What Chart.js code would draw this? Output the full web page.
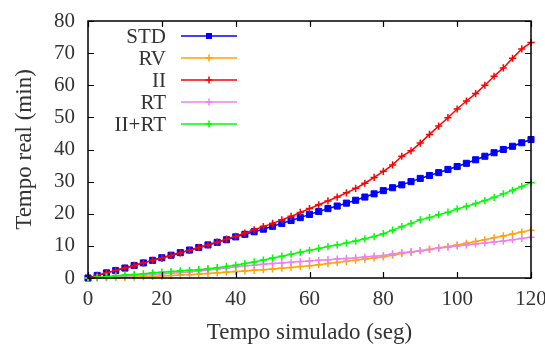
<!DOCTYPE html>
<html><head><meta charset="utf-8">
<script src="https://cdn.jsdelivr.net/npm/chart.js@4/dist/chart.umd.min.js"></script>
<style>html,body{margin:0;padding:0;background:#fff;}canvas{display:block;}</style>
</head><body>
<canvas id="c" width="545" height="347"></canvas>
<script>
const seconds = [0,2.5,5,7.5,10,12.5,15,17.5,20,22.5,25,27.5,30,32.5,35,37.5,40,42.5,45,47.5,50,52.5,55,57.5,60,62.5,65,67.5,70,72.5,75,77.5,80,82.5,85,87.5,90,92.5,95,97.5,100,102.5,105,107.5,110,112.5,115,117.5,120];
const stdValues = [0,0.8,1.6,2.3,3.1,3.9,4.7,5.5,6.3,7.1,7.9,8.7,9.5,10.3,11.1,11.9,12.8,13.6,14.4,15.2,16.1,17.0,17.9,18.8,19.8,20.7,21.6,22.4,23.3,24.2,25.2,26.2,27.2,28.1,29.0,30.0,31.0,31.9,32.8,33.8,34.7,35.7,36.8,37.9,39.0,40.0,41.0,42.1,43.1];
const rvValues = [0,0.05,0.1,0.15,0.2,0.3,0.4,0.5,0.6,0.75,0.9,1.05,1.2,1.4,1.6,1.8,2.0,2.2,2.4,2.6,2.8,3.05,3.3,3.55,3.8,4.15,4.5,4.85,5.2,5.55,5.9,6.25,6.6,7.1,7.6,8.0,8.5,8.9,9.4,9.8,10.3,10.8,11.4,11.9,12.5,13.1,13.7,14.3,14.9];
const iiValues = [0,0.8,1.6,2.4,3.1,3.9,4.7,5.5,6.2,7.0,7.8,8.6,9.5,10.3,11.2,12.1,13.0,14.0,15.0,16.0,17.0,18.1,19.2,20.4,21.6,22.8,24.0,25.2,26.5,27.9,29.5,31.3,33.2,35.2,37.9,39.6,42.0,44.7,47.3,49.9,52.6,55.1,57.4,60.0,62.8,65.4,68.4,71.3,73.3];
const rtValues = [0,0.15,0.3,0.45,0.6,0.75,0.9,1.1,1.3,1.5,1.7,1.9,2.2,2.5,2.8,3.1,3.5,3.8,4.0,4.3,4.5,4.7,4.9,5.1,5.3,5.5,5.7,5.9,6.1,6.3,6.5,6.8,7.0,7.5,7.9,8.2,8.5,8.9,9.3,9.6,10.0,10.3,10.6,10.9,11.2,11.5,11.9,12.3,12.7];
const iirtValues = [0,0.2,0.4,0.7,0.9,1.1,1.3,1.6,1.8,2.0,2.2,2.4,2.6,2.9,3.2,3.6,4.0,4.5,5.0,5.6,6.2,6.8,7.4,8.0,8.6,9.2,9.8,10.3,10.9,11.5,12.2,12.9,13.8,14.9,16.0,17.0,18.1,18.8,19.7,20.5,21.5,22.3,23.2,24.1,25.1,26.2,27.3,28.5,29.7];
const seriesNames = ['STD','RV','II','RT','II+RT'];
const seriesColors = ['#0000ff','#ffa500','#ff0000','#ee82ee','#00ff00'];
const xTicks = [0,20,40,60,80,100,120];
const yTicks = [0,10,20,30,40,50,60,70,80];

const FONT = '"Liberation Serif", "DejaVu Serif", serif';
const TEXT = '#333333';
const allValues = [stdValues, rvValues, iiValues, rtValues, iirtValues];
const datasets = allValues.map((vals, i) => ({
  label: seriesNames[i],
  data: seconds.map((x, j) => ({x: x, y: vals[j]})),
  borderColor: seriesColors[i],
  backgroundColor: seriesColors[i],
  borderWidth: 1.5,
  pointStyle: i === 0 ? 'rect' : 'cross',
  pointRadius: i === 0 ? 4.3 : 3.6,
  pointBorderWidth: i === 0 ? 1 : 1.5,
  showLine: true,
  fill: false,
  clip: false,
  order: 5 - i,
  tension: 0
}));

const framePlugin = {
  id: 'frame',
  afterDatasetsDraw(chart) {
    const ctx = chart.ctx, a = chart.chartArea;
    const xs = chart.scales.x, ys = chart.scales.y;
    ctx.save();
    ctx.strokeStyle = '#000';
    ctx.lineWidth = 1.2;
    ctx.beginPath();
    const L = 6;
    xTicks.forEach(t => {
      const p = Math.round(xs.getPixelForValue(t)) + 0.5;
      ctx.moveTo(p, a.bottom); ctx.lineTo(p, a.bottom - L);
      ctx.moveTo(p, a.top); ctx.lineTo(p, a.top + L);
    });
    yTicks.forEach(t => {
      const p = Math.round(ys.getPixelForValue(t)) + 0.5;
      ctx.moveTo(a.left, p); ctx.lineTo(a.left + L, p);
      ctx.moveTo(a.right, p); ctx.lineTo(a.right - L, p);
    });
    ctx.stroke();
    ctx.lineWidth = 1.5;
    ctx.strokeRect(a.left, a.top, a.right - a.left, a.bottom - a.top);
    // legend
    ctx.font = '21px ' + FONT;
    ctx.textAlign = 'right';
    ctx.textBaseline = 'middle';
    const rows = [36, 58, 80, 102, 124];
    seriesNames.forEach((n, i) => {
      const y = rows[i];
      ctx.fillStyle = TEXT;
      ctx.fillText(n, 166, y + 1);
      ctx.strokeStyle = seriesColors[i];
      ctx.lineWidth = 1.5;
      ctx.beginPath(); ctx.moveTo(181, y); ctx.lineTo(237, y); ctx.stroke();
      ctx.fillStyle = seriesColors[i];
      if (i === 0) {
        ctx.fillRect(206, y - 3, 6, 6);
      } else {
        ctx.beginPath();
        ctx.moveTo(205.5, y); ctx.lineTo(212.5, y);
        ctx.moveTo(209, y - 3.5); ctx.lineTo(209, y + 3.5);
        ctx.stroke();
      }
    });
    ctx.restore();
  }
};

new Chart(document.getElementById('c'), {
  type: 'scatter',
  data: { datasets },
  plugins: [framePlugin],
  options: {
    responsive: false,
    animation: false,
    layout: { padding: { left: 0, right: 14, top: 21, bottom: 0 } },
    plugins: { legend: { display: false }, tooltip: { enabled: false } },
    scales: {
      x: {
        type: 'linear', min: 0, max: 120,
        afterFit(s) { s.height = 69; s.paddingLeft = 0; s.paddingRight = 0; },
        afterBuildTicks(s) { s.ticks = xTicks.map(v => ({value: v})); },
        grid: { display: false, drawTicks: false },
        border: { display: false },
        ticks: { color: TEXT, font: { family: FONT, size: 21 }, padding: 9 },
        title: { display: true, text: 'Tempo simulado (seg)', color: TEXT, font: { family: FONT, size: 23 }, padding: { top: 0, bottom: 0 } }
      },
      y: {
        type: 'linear', min: 0, max: 80,
        afterFit(s) { s.width = 88; s.paddingTop = 0; s.paddingBottom = 0; },
        afterBuildTicks(s) { s.ticks = yTicks.map(v => ({value: v})); },
        grid: { display: false, drawTicks: false },
        border: { display: false },
        ticks: { color: TEXT, font: { family: FONT, size: 21 }, padding: 13 },
        title: { display: true, text: 'Tempo real (min)', color: TEXT, font: { family: FONT, size: 23 }, padding: { top: 11, bottom: 0 } }
      }
    }
  }
});
</script>
</body></html>
